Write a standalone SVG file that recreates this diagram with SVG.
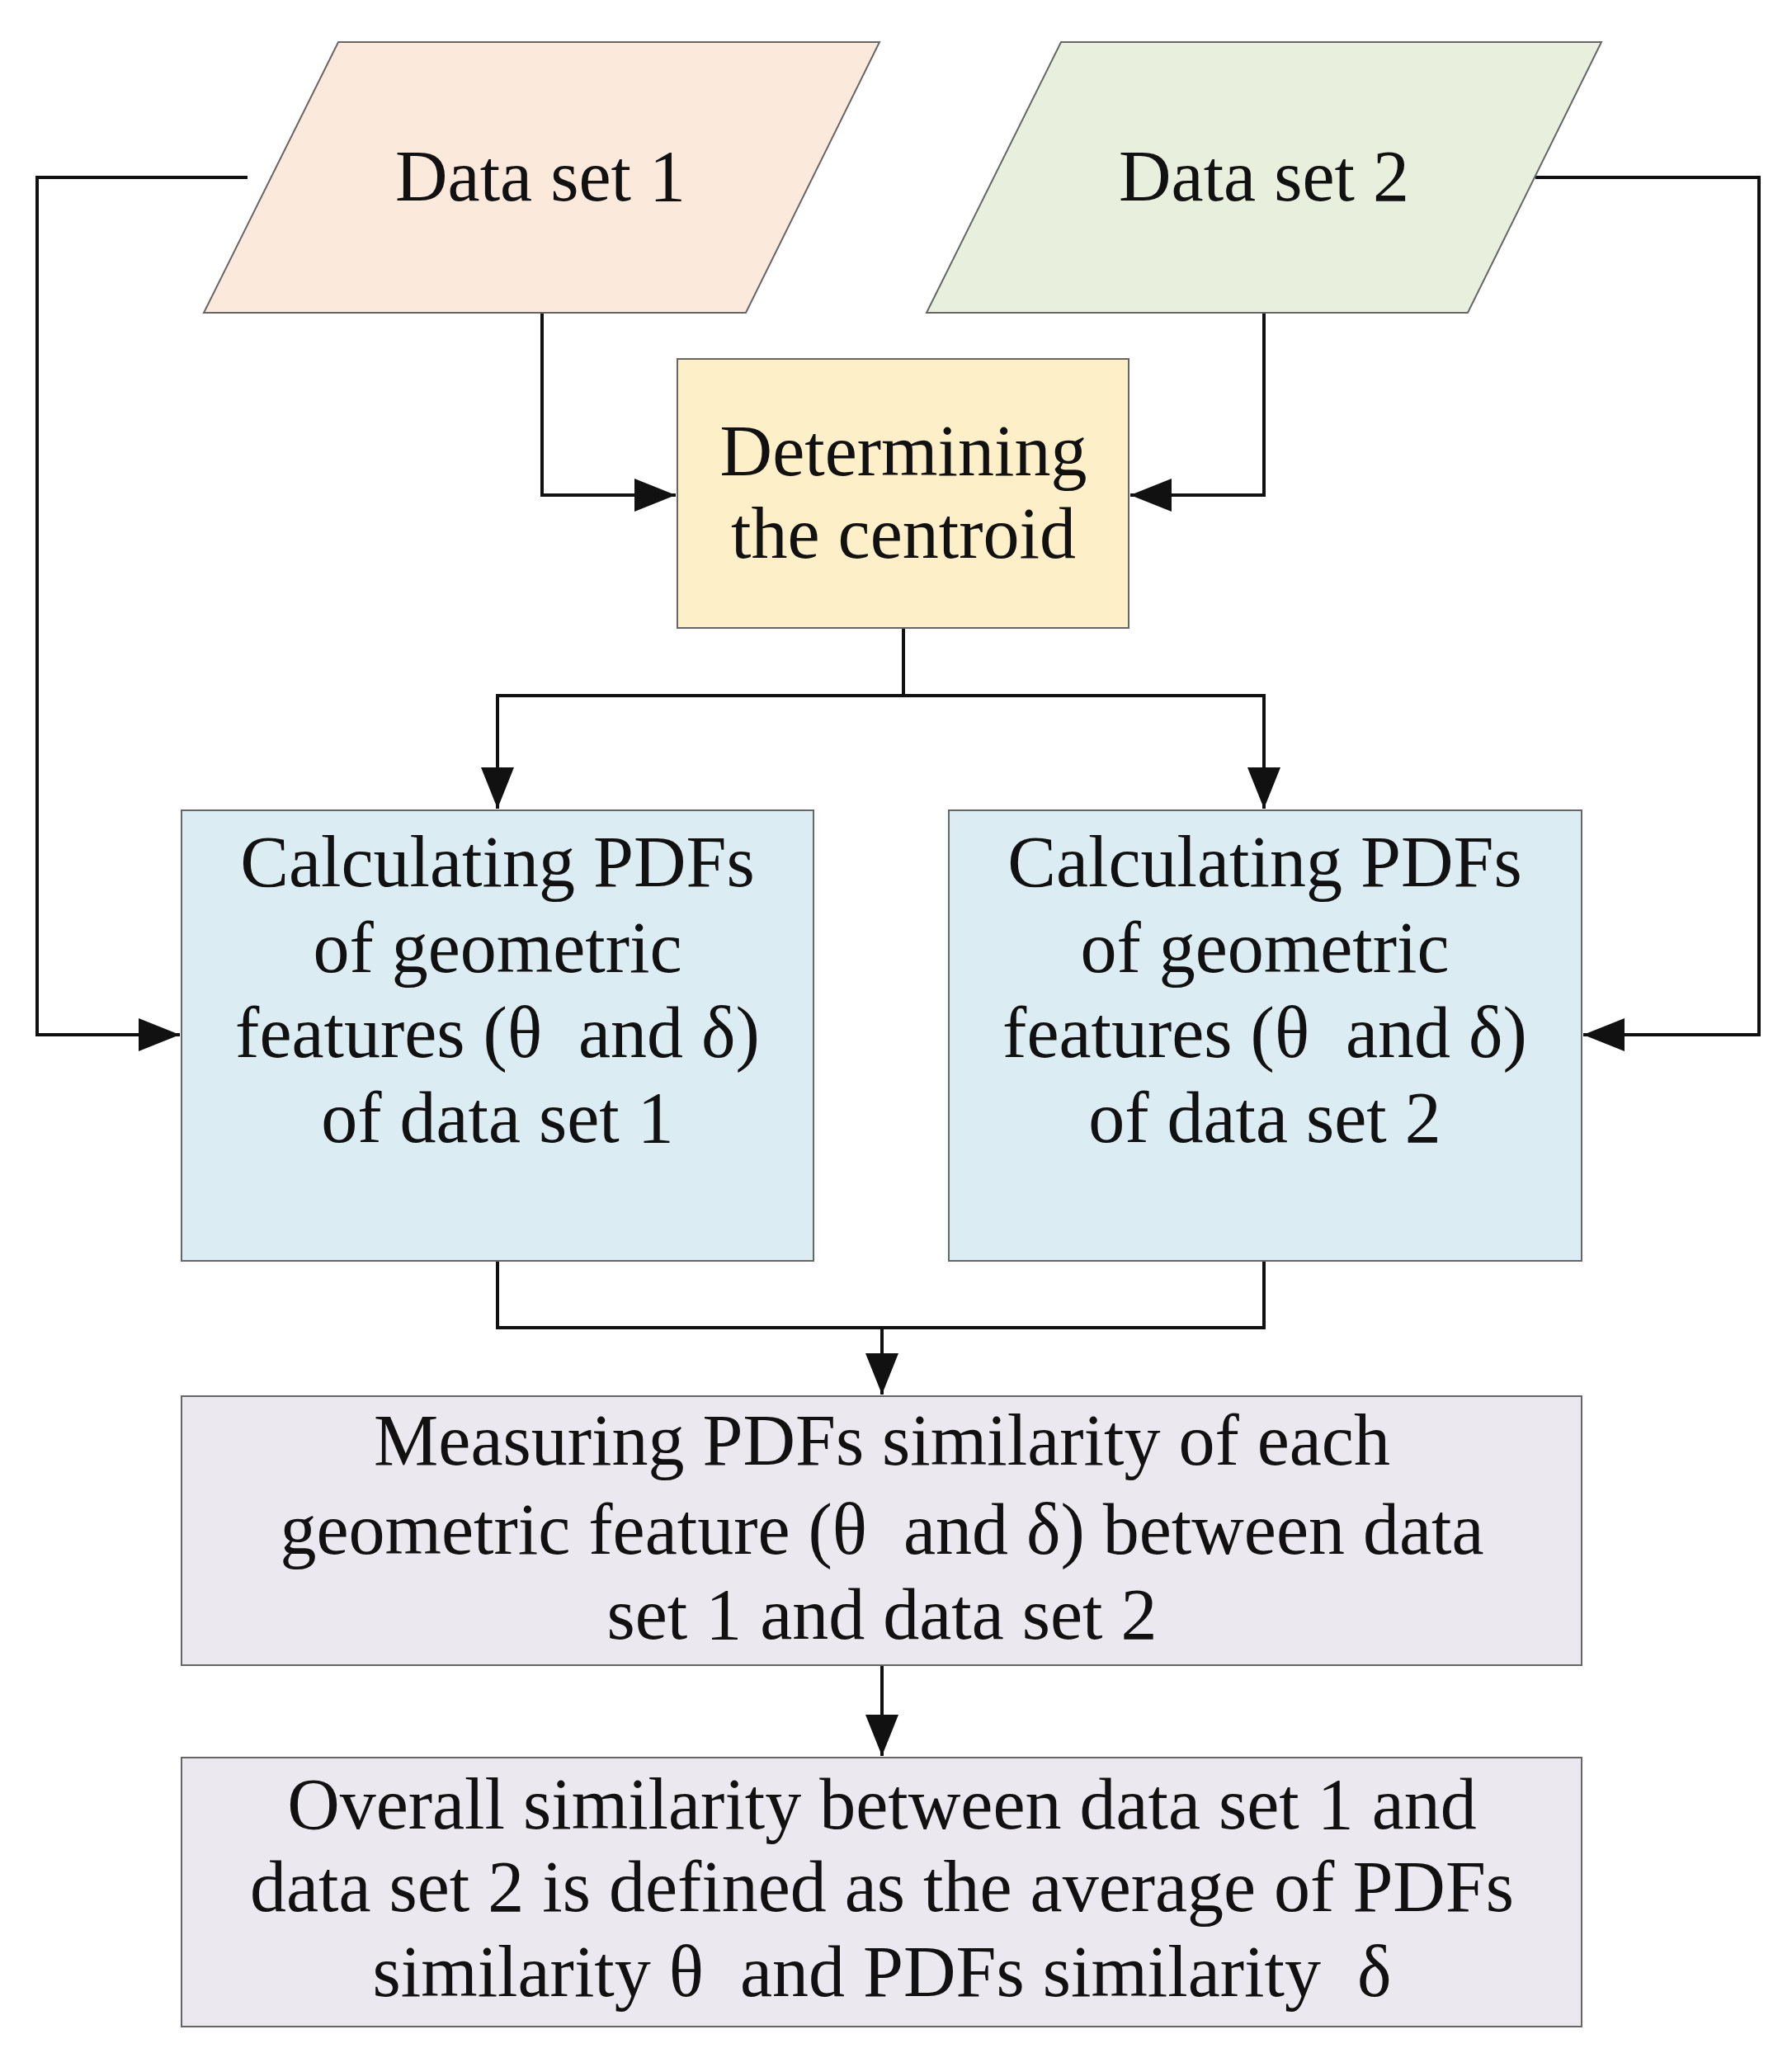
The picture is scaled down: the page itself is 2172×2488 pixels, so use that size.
<svg xmlns="http://www.w3.org/2000/svg" width="2172" height="2488" viewBox="0 0 2172 2488">
<style>
text{font-family:"Liberation Serif","DejaVu Serif",serif;font-size:88px;fill:#111;text-anchor:middle}
.n{stroke:#666;stroke-width:2}
.c{fill:none;stroke:#111;stroke-width:4}
</style>
<defs><marker id="b" viewBox="0 0 10 8" refX="10" refY="4" markerWidth="52" markerHeight="40" markerUnits="userSpaceOnUse" orient="auto"><path d="M0,0L10,4L0,8z" fill="#111"/></marker></defs>
<rect width="2172" height="2488" fill="#fff"/>
<g id="connectors" class="c">
<path d="M300,215H45V1254H218" marker-end="url(#b)"/>
<path d="M1861,215H2132V1254H1919" marker-end="url(#b)"/>
<path d="M657,379V600H819" marker-end="url(#b)"/>
<path d="M1532,379V600H1370" marker-end="url(#b)"/>
<path d="M1095,761V843H603V980" marker-end="url(#b)"/>
<path d="M1095,843H1532V980" marker-end="url(#b)"/>
<path d="M603,1528V1609H1532V1528"/>
<path d="M1069,1609V1690" marker-end="url(#b)"/>
<path d="M1069,2018V2128" marker-end="url(#b)"/>
</g>
<g id="ds1"><polygon class="n" points="410,51 1066,51 904,379 247,379" fill="#fbe9dc"/><text x="655" y="243">Data set 1</text></g>
<g id="ds2"><polygon class="n" points="1286,51 1941,51 1779,379 1123,379" fill="#e8efdc"/><text x="1532" y="243">Data set 2</text></g>
<g id="centroid"><rect class="n" x="821" y="435" width="547" height="326" fill="#fdf0c9"/><text x="1095" y="576">Determining</text><text x="1095" y="676">the centroid</text></g>
<g id="pdf1"><rect class="n" x="220" y="982" width="766" height="546" fill="#dbecf2"/><text x="603" y="1074">Calculating PDFs</text><text x="603" y="1178">of geometric</text><text x="603" y="1281">features (θ&#160; and δ)</text><text x="603" y="1384">of data set 1</text></g>
<g id="pdf2"><rect class="n" x="1150" y="982" width="767" height="546" fill="#dbecf2"/><text x="1533" y="1074">Calculating PDFs</text><text x="1533" y="1178">of geometric</text><text x="1533" y="1281">features (θ&#160; and δ)</text><text x="1533" y="1384">of data set 2</text></g>
<g id="measure"><rect class="n" x="220" y="1692" width="1697" height="326" fill="#ebe8ef"/><text x="1069" y="1775">Measuring PDFs similarity of each</text><text x="1069" y="1883">geometric feature (θ&#160; and δ) between data</text><text x="1069" y="1986">set 1 and data set 2</text></g>
<g id="overall"><rect class="n" x="220" y="2130" width="1697" height="326" fill="#ebe8ef"/><text x="1069" y="2216">Overall similarity between data set 1 and</text><text x="1069" y="2316">data set 2 is defined as the average of PDFs</text><text x="1069" y="2419">similarity θ&#160; and PDFs similarity&#160; δ</text></g>
</svg>
